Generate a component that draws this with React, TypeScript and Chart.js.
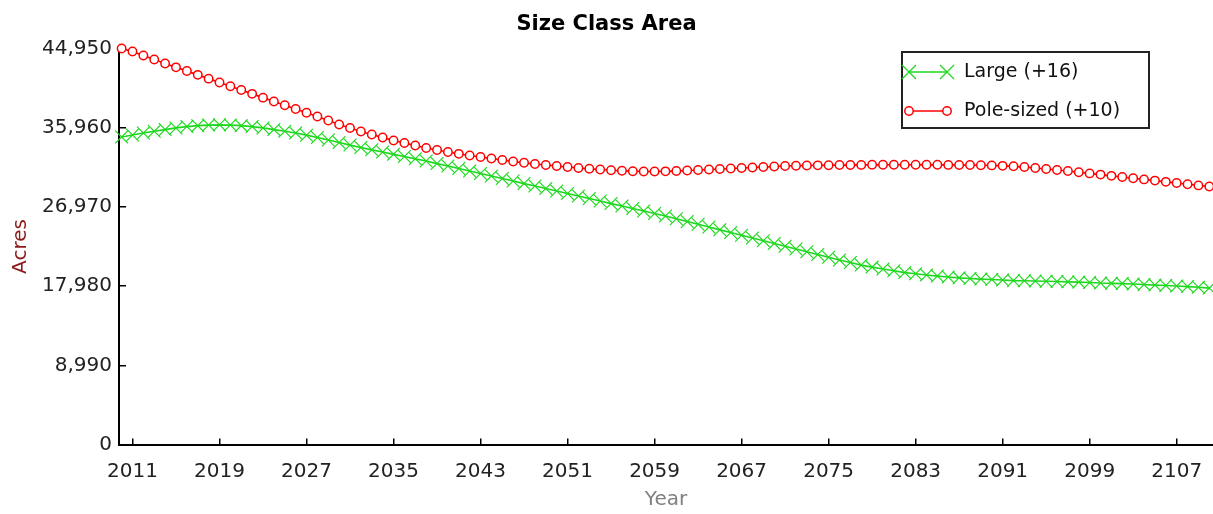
import React, { useEffect, useRef } from "react";
import { Chart, registerables } from "chart.js";

Chart.register(...registerables);

const chartTitle = "Size Class Area";
const xAxisTitle = "Year";
const yAxisTitle = "Acres";

const years = [
  2010, 2011, 2012, 2013, 2014, 2015, 2016, 2017, 2018, 2019,
  2020, 2021, 2022, 2023, 2024, 2025, 2026, 2027, 2028, 2029,
  2030, 2031, 2032, 2033, 2034, 2035, 2036, 2037, 2038, 2039,
  2040, 2041, 2042, 2043, 2044, 2045, 2046, 2047, 2048, 2049,
  2050, 2051, 2052, 2053, 2054, 2055, 2056, 2057, 2058, 2059,
  2060, 2061, 2062, 2063, 2064, 2065, 2066, 2067, 2068, 2069,
  2070, 2071, 2072, 2073, 2074, 2075, 2076, 2077, 2078, 2079,
  2080, 2081, 2082, 2083, 2084, 2085, 2086, 2087, 2088, 2089,
  2090, 2091, 2092, 2093, 2094, 2095, 2096, 2097, 2098, 2099,
  2100, 2101, 2102, 2103, 2104, 2105, 2106, 2107, 2108, 2109,
  2110,
];

const largeLabel = "Large (+16)";
const largeValues = [
  34900, 35130, 35360, 35560, 35750, 35930, 36090, 36190, 36260, 36290,
  36260, 36190, 36090, 35930, 35750, 35560, 35360, 35110, 34850, 34560,
  34280, 33990, 33710, 33450, 33200, 32940, 32690, 32430, 32180, 31890,
  31610, 31330, 31040, 30760, 30480, 30190, 29910, 29620, 29340, 29060,
  28770, 28490, 28210, 27920, 27640, 27350, 27070, 26790, 26500, 26220,
  25940, 25620, 25310, 25000, 24690, 24370, 24060, 23750, 23440, 23130,
  22810, 22500, 22190, 21880, 21570, 21250, 20940, 20660, 20370, 20140,
  19920, 19720, 19520, 19380, 19240, 19120, 19010, 18920, 18840, 18780,
  18730, 18670, 18610, 18590, 18560, 18530, 18500, 18470, 18440, 18390,
  18330, 18300, 18270, 18220, 18160, 18100, 18050, 17990, 17930, 17850,
  17760,
];

const poleLabel = "Pole-sized (+10)";
const poleValues = [
  44950, 44606, 44152, 43698, 43244, 42812, 42392, 41961, 41530, 41098,
  40667, 40236, 39804, 39373, 38942, 38511, 38079, 37659, 37228, 36774,
  36320, 35923, 35526, 35185, 34845, 34504, 34220, 33937, 33653, 33426,
  33199, 32994, 32802, 32631, 32461, 32291, 32121, 31973, 31837, 31723,
  31610, 31496, 31383, 31292, 31213, 31133, 31065, 31020, 30986, 30986,
  31008, 31042, 31099, 31156, 31213, 31269, 31326, 31383, 31440, 31496,
  31553, 31610, 31644, 31667, 31689, 31700, 31723, 31723, 31735, 31746,
  31746, 31757, 31757, 31757, 31746, 31746, 31735, 31723, 31723, 31700,
  31678, 31632, 31576, 31496, 31383, 31269, 31156, 31042, 30906, 30770,
  30634, 30497, 30361, 30225, 30089, 29953, 29816, 29680, 29544, 29408,
  29283,
];

const xTickYears = [2011, 2019, 2027, 2035, 2043, 2051, 2059, 2067, 2075, 2083, 2091, 2099, 2107];
const yTickValues = [0, 8990, 17980, 26970, 35960, 44950];

const FONT = "'DejaVu Sans', sans-serif";
const GREEN = "#1ed81e";
const RED = "#ff0000";

const boxLegend = {
  id: "boxLegend",
  afterDraw(chart: any) {
    const ctx = chart.ctx;
    const bx = 902, by = 52, bw = 247, bh = 76;
    ctx.save();
    ctx.fillStyle = "#ffffff";
    ctx.fillRect(bx, by, bw, bh);
    ctx.strokeStyle = "#222222";
    ctx.lineWidth = 2;
    ctx.strokeRect(bx, by, bw, bh);
    const rows = [72, 111];
    chart.data.datasets.forEach((ds: any, i: number) => {
      const cy = rows[i];
      const x1 = 909, x2 = 947;
      ctx.strokeStyle = ds.borderColor;
      ctx.lineWidth = 1.5;
      ctx.beginPath();
      ctx.moveTo(x1, cy);
      ctx.lineTo(x2, cy);
      ctx.stroke();
      [x1, x2].forEach((px) => {
        ctx.beginPath();
        if (ds.pointStyle === "crossRot") {
          const d = 7;
          ctx.lineWidth = 1.3;
          ctx.moveTo(px - d, cy - d);
          ctx.lineTo(px + d, cy + d);
          ctx.moveTo(px - d, cy + d);
          ctx.lineTo(px + d, cy - d);
          ctx.stroke();
        } else {
          ctx.lineWidth = 1.5;
          ctx.arc(px, cy, 4.2, 0, Math.PI * 2);
          ctx.fillStyle = "#ffffff";
          ctx.fill();
          ctx.stroke();
        }
      });
      ctx.fillStyle = "#111111";
      ctx.font = `19px ${FONT}`;
      ctx.textAlign = "left";
      ctx.textBaseline = "middle";
      ctx.fillText(ds.label, 964, cy);
    });
    ctx.restore();
  },
};

export default function App() {
  const ref = useRef<HTMLCanvasElement | null>(null);

  useEffect(() => {
    document.body.style.margin = "0";
    const canvas = ref.current;
    if (!canvas) return;
    const chart = new Chart(canvas, {
      type: "line",
      data: {
        datasets: [
          {
            label: largeLabel,
            data: years.map((yr, i) => ({ x: yr, y: largeValues[i] })),
            borderColor: GREEN,
            backgroundColor: GREEN,
            borderWidth: 1.7,
            pointStyle: "crossRot",
            pointRadius: 9,
            pointBorderWidth: 1.2,
            pointBorderColor: GREEN,
            tension: 0,
            clip: false,
          },
          {
            label: poleLabel,
            data: years.map((yr, i) => ({ x: yr, y: poleValues[i] })),
            borderColor: RED,
            backgroundColor: "#ffffff",
            borderWidth: 1.7,
            pointStyle: "circle",
            pointRadius: 4.2,
            pointBorderWidth: 1.5,
            pointBorderColor: RED,
            pointBackgroundColor: "#ffffff",
            tension: 0,
            clip: false,
          },
        ],
      },
      options: {
        animation: false,
        responsive: false,
        devicePixelRatio: 1,
        layout: { autoPadding: false, padding: { left: 0, right: 0, top: 0, bottom: 0 } },
        plugins: {
          legend: { display: false },
          tooltip: { enabled: false },
          title: {
            display: true,
            text: chartTitle,
            color: "#000000",
            font: { family: FONT, size: 21, weight: "bold", lineHeight: 1.2 },
            padding: { top: 12, bottom: 11.3 },
          },
        },
        scales: {
          x: {
            type: "linear",
            min: 2009.76,
            max: 2110.34,
            afterBuildTicks: (scale: any) => {
              scale.ticks = xTickYears.map((v) => ({ value: v }));
            },
            afterFit: (scale: any) => {
              scale.height = 69.5;
              scale.paddingLeft = 0;
              scale.paddingRight = 0;
            },
            ticks: {
              color: "#222222",
              font: { family: FONT, size: 20 },
              padding: 21,
              maxRotation: 0,
              autoSkip: false,
              callback: (v: any) => String(v),
            },
            grid: {
              display: true,
              drawOnChartArea: false,
              drawTicks: true,
              tickLength: -6,
              color: "#000000",
              lineWidth: 1.5,
            },
            border: { display: true, color: "#000000", width: 2 },
            title: {
              display: true,
              text: xAxisTitle,
              color: "#808080",
              font: { family: FONT, size: 20 },
              padding: { top: 0, bottom: 2 },
            },
          },
          y: {
            type: "linear",
            min: 0,
            max: 44950,
            afterBuildTicks: (scale: any) => {
              scale.ticks = yTickValues.map((v) => ({ value: v }));
            },
            afterFit: (scale: any) => {
              scale.width = 119;
            },
            ticks: {
              color: "#222222",
              font: { family: FONT, size: 20 },
              padding: 14,
              callback: (v: any) => Number(v).toLocaleString("en-US"),
            },
            grid: {
              display: true,
              drawOnChartArea: false,
              drawTicks: true,
              tickLength: -7,
              color: "#000000",
              lineWidth: 1.5,
            },
            border: { display: true, color: "#000000", width: 2 },
            title: {
              display: true,
              text: yAxisTitle,
              color: "#8b1a1a",
              font: { family: FONT, size: 20 },
              padding: { top: 9, bottom: 0 },
            },
          },
        },
      },
      plugins: [boxLegend],
    } as any);
    return () => chart.destroy();
  }, []);

  return (
    <div style={{ width: 1213, height: 514, background: "#ffffff" }}>
      <canvas ref={ref} width={1213} height={514} style={{ display: "block" }} />
    </div>
  );
}
